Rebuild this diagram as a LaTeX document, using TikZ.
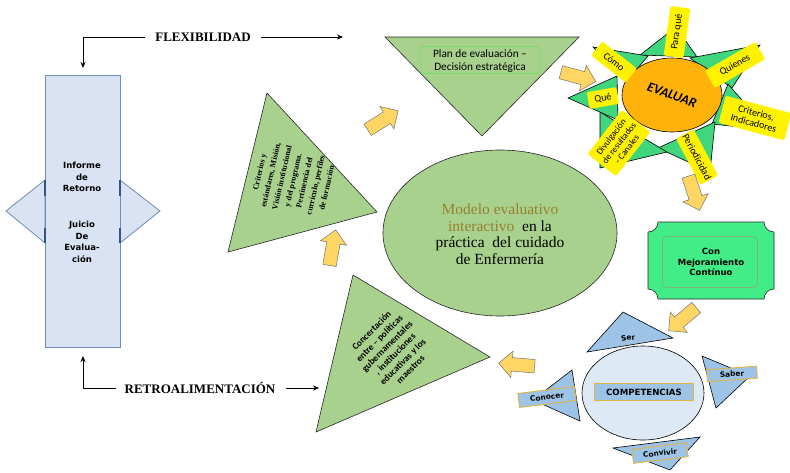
\documentclass[tikz,border=0pt]{standalone}
\usepackage{fontspec}
\setmainfont{Liberation Serif}
\newfontfamily\carl{Carlito}
\newfontfamily\dvs{DejaVu Sans}
\usetikzlibrary{shapes.geometric,shapes.arrows,arrows.meta}
\definecolor{lgreen}{RGB}{169,209,142}
\definecolor{sgreen}{RGB}{64,214,125}
\definecolor{mgreen}{RGB}{66,236,134}
\definecolor{orng}{RGB}{255,178,10}
\definecolor{yarrow}{RGB}{255,214,100}
\definecolor{lblue}{RGB}{218,227,243}
\definecolor{bdr}{RGB}{110,140,180}
\definecolor{darkb}{RGB}{50,85,130}
\definecolor{bblue}{RGB}{157,195,230}
\definecolor{cblue}{RGB}{222,233,246}
\definecolor{olivetxt}{RGB}{150,130,45}
\definecolor{gold}{RGB}{225,180,70}
\begin{document}
\begin{tikzpicture}[x=1pt,y=1pt,
  tri/.style={draw=black!85, line width=0.6pt, fill=lgreen},
  startri/.style={draw=black, line width=0.6pt, fill=sgreen},
  btri/.style={draw=black, line width=0.6pt, fill=bblue},
  ylab/.style={fill=yellow, rounded corners=2pt, inner sep=1pt, align=center, font=\carl\fontsize{10}{10.5}\selectfont},
  blab/.style={fill=bblue, draw=gold, line width=0.9pt, inner sep=1pt, font=\dvs\bfseries\fontsize{7.4}{8}\selectfont},
  barrow/.style={single arrow, draw=black!55, fill=yarrow, line width=0.5pt, single arrow head extend=6.5pt, inner xsep=0pt, inner ysep=6.5pt, minimum height=36pt},
  arr/.style={-{Stealth[length=6pt,width=5pt]}, line width=0.6pt},
  lbl/.style={font=\bfseries\fontsize{13}{15}\selectfont, inner sep=2pt}
]
\useasboundingbox (0,0) rectangle (790,-472);
\fill[white] (0,0) rectangle (790,-472);

% ---------- left report shape
\path[draw=bdr, fill=lblue, line width=0.8pt] (45,-180) -- (6,-211) -- (45,-243) -- cycle;
\path[draw=bdr, fill=lblue, line width=0.8pt] (120,-180) -- (160,-211) -- (120,-243) -- cycle;
\node[draw=bdr, fill=lblue, line width=0.8pt, minimum width=75pt, minimum height=272pt, anchor=north west, outer sep=0pt] (rep) at (45,-75) {};
\draw[darkb, line width=1.5pt] (45,-180) -- (45,-196) (45,-228) -- (45,-243)
  (120,-180) -- (120,-196) (120,-228) -- (120,-243);
\node[font=\dvs\bfseries\fontsize{8.5}{11.5}\selectfont, align=center] (inf) at (82,-177) {Informe\\de\\Retorno};
\node[font=\dvs\bfseries\fontsize{8.5}{11.5}\selectfont, align=center] (jui) at (82,-242) {Juicio\\De\\Evalua-\\ción};

% ---------- flexibility / feedback
\node[lbl] (flex) at (203,-37) {FLEXIBILIDAD};
\coordinate (ftop) at (83,-68);
\coordinate (fend) at (343,-37);
\draw[arr] ([xshift=-8pt]flex.west) -| (ftop);
\draw[arr] ([xshift=8pt]flex.east) -- (fend);
\node[lbl] (retro) at (200,-388) {RETROALIMENTACIÓN};
\coordinate (rtop) at (83,-356);
\coordinate (rend) at (319,-388);
\draw[arr] ([xshift=-6pt]retro.west) -| (rtop);
\draw[arr] ([xshift=8pt]retro.east) -- (rend);

% ---------- plan triangle
\path[tri] (385,-37) -- (579,-37) -- (482,-136) -- cycle;
\node[draw=green!45!lgreen, rounded corners=3pt, minimum width=120pt, minimum height=27pt, line width=0.5pt] (planbox) at (480,-60) {};
\node[font=\carl\fontsize{11.3}{12.5}\selectfont, align=center] (plan) at (480,-61) {Plan de evaluación –\\Decisión estratégica};

% ---------- criteria triangle
\path[tri] (267,-93) -- (377,-212) -- (228,-252) -- cycle;
\node[rotate=77, font=\bfseries\fontsize{8}{11.5}\selectfont, align=center] (crit) at (293,-180)
 {Criterios y\\estándares, Misión,\\Visión institucional\\y del programa.\\Pertinencia del\\currículo, perfiles\\de formación};

% ---------- concertacion triangle
\path[tri] (353,-275) -- (490,-357) -- (316,-432) -- cycle;
\node[rotate=45, font=\carl\bfseries\fontsize{9.3}{11}\selectfont, align=center] (conc) at (391,-350)
 {Concertación\\entre – políticas\\gubernamentales\\, instituciones\\educativas y los\\maestros};

% ---------- central ellipse
\node[ellipse, draw=black!85, line width=0.6pt, fill=lgreen, minimum width=234pt, minimum height=166pt] (model) at (500,-233) {};
\node[font=\fontsize{15.5}{16.5}\selectfont, align=center] (modeltxt) at (500,-234)
 {{\color{olivetxt}Modelo evaluativo}\\{\color{olivetxt}interactivo}\ \ en la\\práctica\ \ del cuidado\\de Enfermería};

% ---------- star
\path[startri] (640,-55) -- (676,-27) -- (697,-57) -- cycle;
\path[startri] (690,-58) -- (760,-45) -- (732,-88) -- cycle;
\path[startri] (728,-84) -- (712,-124) -- (768,-130) -- cycle;
\path[startri] (715,-122) -- (658,-148) -- (710,-172) -- cycle;
\path[startri] (600,-112) -- (667,-152) -- (600,-168) -- cycle;
\path[startri] (568,-98) -- (617,-76) -- (618,-120) -- cycle;
\path[startri] (593,-47) -- (648,-56) -- (626,-82) -- cycle;
\node[ellipse, draw=black, line width=0.6pt, fill=orng, minimum width=100pt, minimum height=74pt] (eval) at (672,-95) {};
\node[rotate=-20, font=\carl\bfseries\itshape\fontsize{13.5}{15}\selectfont] (evaltxt) at (672,-95) {EVALUAR};
\node[ylab, rotate=82, minimum width=50pt, minimum height=20pt] (lpq) at (677,-32) {Para qué};
\node[ylab, rotate=30, minimum width=58pt, minimum height=20pt] (lqu) at (735,-65) {Quienes};
\node[ylab, rotate=-15, minimum width=68pt, minimum height=28pt] (lcr) at (755,-118) {Criterios,\\Indicadores};
\node[ylab, rotate=-62, minimum width=50pt, minimum height=20pt] (lpe) at (697,-157) {Periodicidad};
\node[ylab, rotate=52, minimum width=56pt, minimum height=36pt, font=\carl\fontsize{9}{10}\selectfont] (ldi) at (619,-143) {Divulgación\\de resultados\\- Canales};
\node[ylab, rotate=10, minimum width=30pt, minimum height=17pt] (lqe) at (603,-98) {Qué};
\node[ylab, rotate=-38, minimum width=44pt, minimum height=18pt] (lco) at (614,-62) {Cómo};

% ---------- mejoramiento box
\path[draw=black!85, line width=0.6pt, fill=mgreen]
 (658,-222) -- (764,-222) arc[start angle=180, end angle=270, radius=10pt]
 -- (774,-289) arc[start angle=90, end angle=180, radius=10pt]
 -- (658,-299) arc[start angle=0, end angle=90, radius=10pt]
 -- (648,-232) arc[start angle=270, end angle=360, radius=10pt] -- cycle;
\node[draw=yellow!60!black!40!mgreen, rounded corners=4pt, minimum width=95pt, minimum height=51pt, line width=0.6pt] (mejbox) at (710,-262) {};
\node[font=\dvs\bfseries\fontsize{8.5}{10.5}\selectfont, align=center] (mej) at (711,-262) {Con\\Mejoramiento\\Contínuo};

% ---------- competencias
\path[btri] (587,-352) -- (623,-312) -- (673,-338) -- cycle;
\path[btri] (702,-356) -- (750,-376) -- (716,-408) -- cycle;
\path[btri] (572,-370) -- (580,-421) -- (533,-400) -- cycle;
\path[btri] (613,-448) -- (700,-437) -- (670,-470) -- cycle;
\node[ellipse, draw=black, line width=0.6pt, fill=cblue, minimum width=122pt, minimum height=94pt] (comp) at (643,-393) {};
\node[blab, font=\dvs\bfseries\fontsize{8.6}{9}\selectfont, minimum width=99pt, minimum height=17pt] (comptxt) at (644,-392) {COMPETENCIAS};
\node[rotate=10, font=\dvs\bfseries\fontsize{7.4}{8}\selectfont] (ser) at (628,-338) {Ser};
\node[blab, rotate=4, minimum width=50pt, minimum height=12pt] (saber) at (732,-374) {Saber};
\node[blab, rotate=7, minimum width=57pt, minimum height=14pt] (conocer) at (547,-397) {Conocer};
\node[blab, rotate=7, minimum width=55pt, minimum height=14pt] (convivir) at (660,-453) {Convivir};

% ---------- block arrows
\node[barrow, rotate=32] (a1) at (380,-122) {};
\node[barrow, rotate=80] (a2) at (332,-251) {};
\node[barrow, rotate=-15] (a3) at (575,-76) {};
\node[barrow, rotate=-72] (a4) at (693,-190) {};
\node[barrow, rotate=-140] (a5) at (685,-317) {};
\node[barrow, rotate=175] (a6) at (520,-365) {};
\end{tikzpicture}
\end{document}
